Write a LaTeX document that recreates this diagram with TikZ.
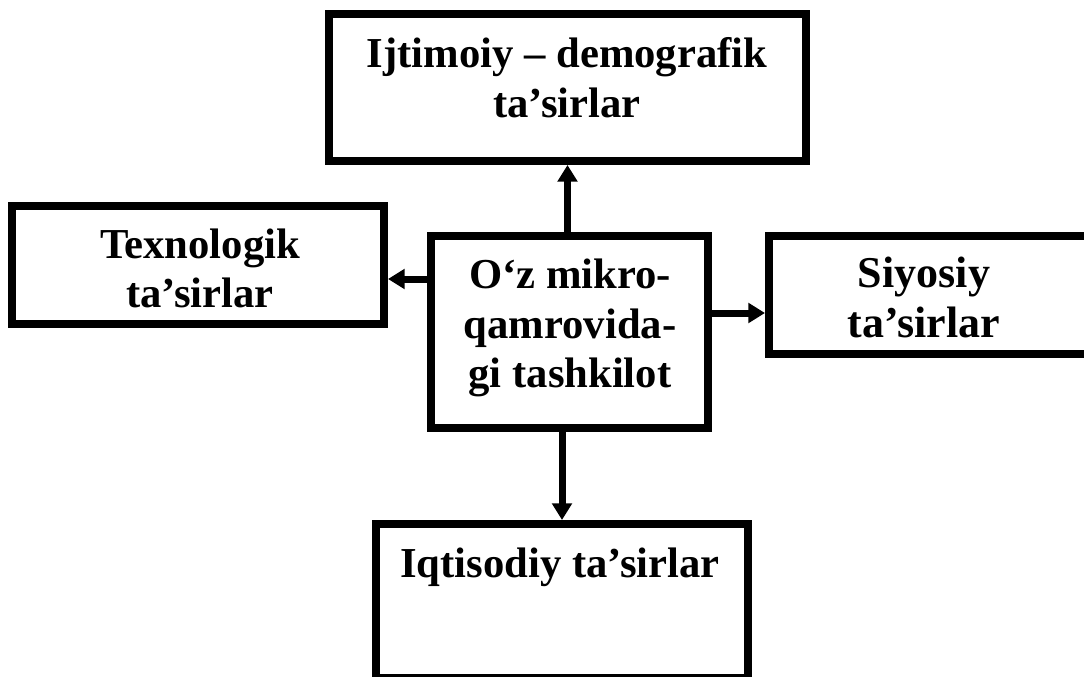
\documentclass[tikz,border=0pt]{standalone}
\usepackage{fontspec}
\setmainfont{Liberation Serif}
\usetikzlibrary{arrows.meta}

\tikzset{
  box/.style={draw=black, line width=6pt, rectangle, inner sep=0pt, fill=white},
  lbl/.style={anchor=base, inner sep=0pt, font=\fontsize{32}{38}\selectfont\bfseries},
  lblr/.style={lbl, font=\fontsize{33}{39}\selectfont\bfseries},
  link/.style={line width=5.25pt, -{Triangle[length=12.5pt,width=14.5pt]}}
}

\begin{document}
\begin{tikzpicture}[x=0.75pt, y=-0.75pt]
  \clip (0,0) rectangle (1084,677);
  \fill[white] (0,0) rectangle (1084,677);

  % boxes
  \node[box, minimum width=357.75pt, minimum height=110.25pt] (soc) at (567.5,87.5) {};
  \node[box, minimum width=279pt, minimum height=88.5pt] (tech) at (198,265) {};
  \node[box, minimum width=207.75pt, minimum height=144pt] (org) at (569.5,332) {};
  \node[box, minimum width=285.75pt, minimum height=88.5pt] (pol) at (959.5,295) {};
  \node[box, minimum width=279pt, minimum height=115.5pt] (eco) at (562,601) {};

  % labels
  \node[lbl] (soc1) at (567,68) {Ijtimoiy – demografik};
  \node[lbl] (soc2) at (567,118) {ta’sirlar};
  \node[lbl] (tech1) at (200,258) {Texnologik};
  \node[lbl] (tech2) at (200,307) {ta’sirlar};
  \node[lbl] (org1) at (570,288) {O‘z mikro-};
  \node[lbl] (org2) at (570,338) {qamrovida-};
  \node[lbl] (org3) at (570,387) {gi tashkilot};
  \node[lblr] (pol1) at (924,287) {Siyosiy};
  \node[lblr] (pol2) at (924,337) {ta’sirlar};
  \node[lbl] (eco1) at (560,577) {Iqtisodiy ta’sirlar};

  % connectors
  \draw[link] (org.north -| soc.south) -- (soc.south);
  \draw[link] ([yshift=39.75pt]org.west) -- ([yshift=39.75pt]org.west -| tech.east);
  \draw[link] ([yshift=14.25pt]org.east) -- ([yshift=14.25pt]org.east -| pol.west);
  \draw[link] (org.south -| eco.north) -- (eco.north);
\end{tikzpicture}
\end{document}
